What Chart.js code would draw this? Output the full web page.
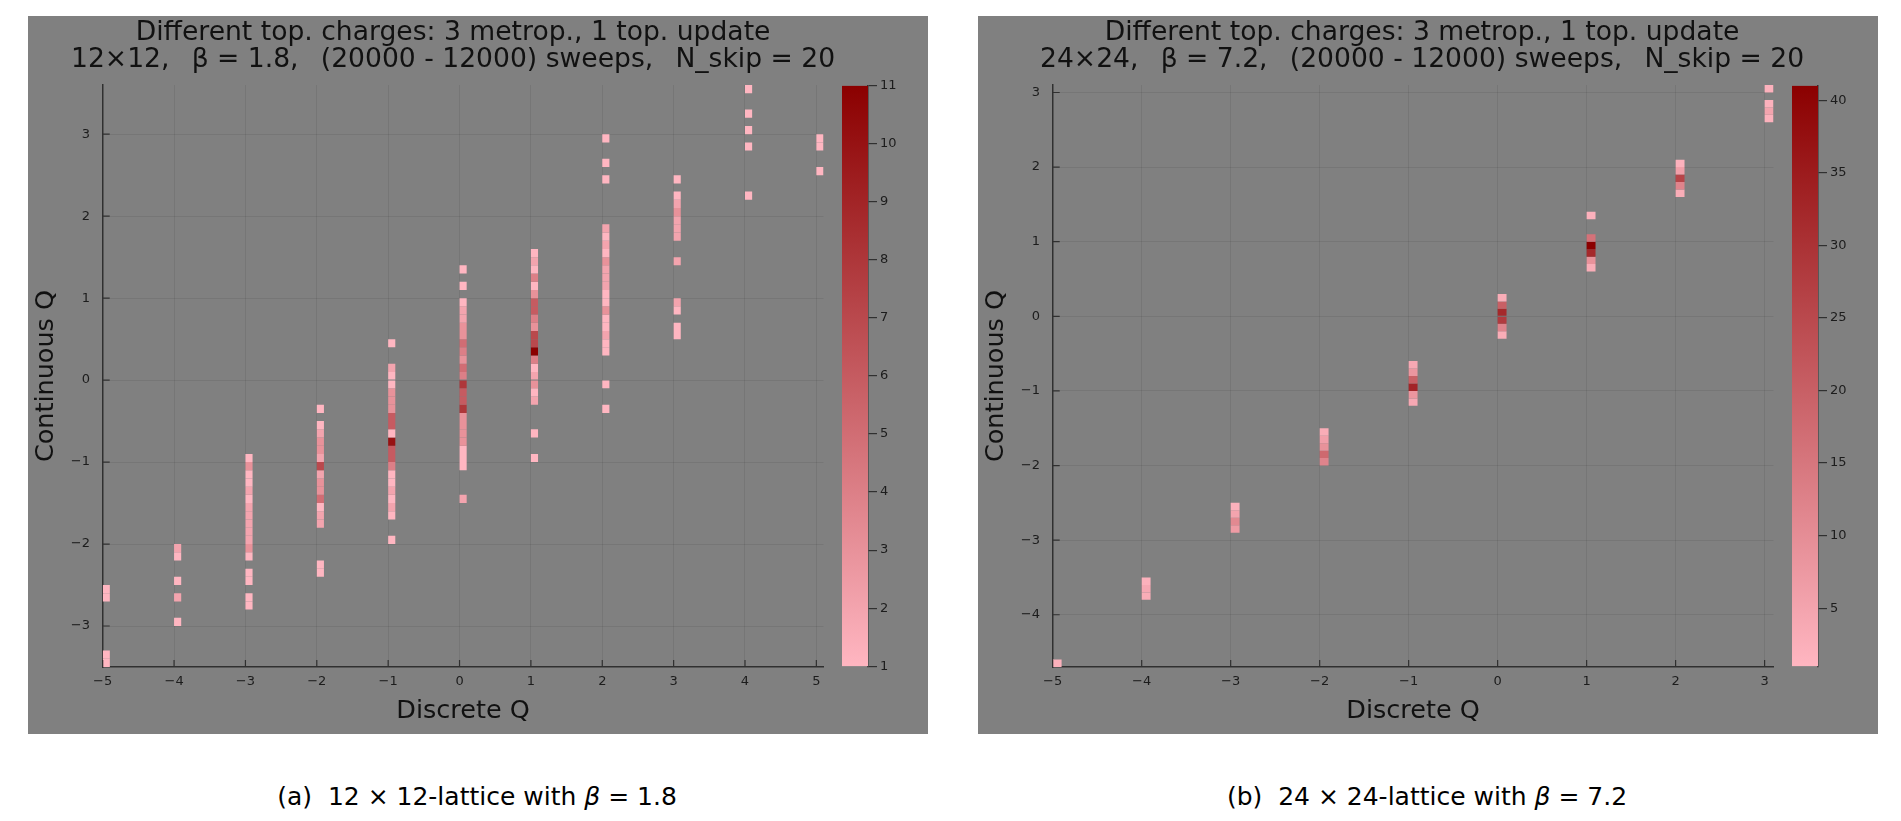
<!DOCTYPE html>
<html lang="en">
<head>
<meta charset="UTF-8">
<title>Discrete vs continuous Q</title>
<script src="https://cdn.jsdelivr.net/npm/chart.js@4.4.1/dist/chart.umd.min.js"></script>
<style>
  body { margin: 0; width: 1901px; height: 821px; background: #fff; position: relative; overflow: hidden; font-family: "DejaVu Sans", sans-serif; }
  .panel { position: absolute; top: 16px; width: 900px; height: 718px; background: #808080; }
  .panel canvas { position: absolute; }
  .caption { position: absolute; top: 782px; font-size: 25px; line-height: 30px; color: #000; white-space: pre; transform: translateX(-50%); }
</style>
</head>
<body>

<div class="panel" style="left:28px">
  <canvas id="heatA" width="900" height="718" style="left:0;top:0"></canvas>
  <canvas id="barA" width="86" height="602" style="left:814px;top:59px"></canvas>
</div>
<div class="panel" style="left:978px">
  <canvas id="heatB" width="900" height="718" style="left:0;top:0"></canvas>
  <canvas id="barB" width="86" height="602" style="left:814px;top:59px"></canvas>
</div>

<div class="caption" style="left:477px">(a)  12 × 12-lattice with <i>β</i> = 1.8</div>
<div class="caption" style="left:1427px">(b)  24 × 24-lattice with <i>β</i> = 7.2</div>

<script>
    // 12x12, beta = 1.8 : one list of bins (centre of continuous Q) per discrete Q
    const discreteA = [-5, -4, -3, -2, -1, 0, 1, 2, 3, 4, 5];
    const contA = [
        [-3.45, -3.35, -2.65, -2.55],
        [-2.95, -2.65, -2.45, -2.15, -2.05],
        [-2.75, -2.65, -2.45, -2.35, -2.15, -2.05, -1.95, -1.85, -1.75, -1.65, -1.55, -1.45, -1.35, -1.25, -1.15, -1.05, -0.95],
        [-2.35, -2.25, -1.75, -1.65, -1.55, -1.45, -1.35, -1.25, -1.15, -1.05, -0.95, -0.85, -0.75, -0.65, -0.55, -0.35],
        [-1.95, -1.65, -1.55, -1.45, -1.35, -1.25, -1.15, -1.05, -0.95, -0.85, -0.75, -0.65, -0.55, -0.45, -0.35, -0.25, -0.15, -0.05, 0.05, 0.15, 0.45],
        [-1.45, -1.05, -0.95, -0.85, -0.75, -0.65, -0.55, -0.45, -0.35, -0.25, -0.15, -0.05, 0.05, 0.15, 0.25, 0.35, 0.45, 0.55, 0.65, 0.75, 0.85, 0.95, 1.15, 1.35],
        [-0.95, -0.65, -0.25, -0.15, -0.05, 0.05, 0.15, 0.25, 0.35, 0.45, 0.55, 0.65, 0.75, 0.85, 0.95, 1.05, 1.15, 1.25, 1.35, 1.45, 1.55],
        [-0.35, -0.05, 0.35, 0.45, 0.55, 0.65, 0.75, 0.85, 0.95, 1.05, 1.15, 1.25, 1.35, 1.45, 1.55, 1.65, 1.75, 1.85, 2.45, 2.65, 2.95],
        [0.55, 0.65, 0.85, 0.95, 1.45, 1.75, 1.85, 1.95, 2.05, 2.15, 2.25, 2.45],
        [2.25, 2.85, 3.05, 3.25, 3.55],
        [2.55, 2.85, 2.95]
    ];
    const countA = [
        [1, 1, 1, 1],
        [1, 2, 1, 1, 2],
        [1, 1, 1, 1, 1, 3, 2, 2, 2, 2, 2, 1, 2, 1, 1, 3, 1],
        [1, 1, 2, 2, 1, 5, 3, 3, 2, 7, 2, 3, 3, 2, 1, 1],
        [1, 1, 2, 1, 2, 1, 1, 4, 6, 6, 10, 1, 6, 6, 3, 3, 3, 1, 1, 2, 1],
        [2, 1, 1, 1, 3, 3, 3, 3, 8, 6, 6, 8, 4, 5, 3, 4, 5, 3, 3, 2, 2, 1, 1, 1],
        [1, 1, 2, 1, 3, 2, 1, 4, 11, 7, 7, 3, 4, 6, 6, 3, 1, 4, 1, 2, 1],
        [1, 1, 1, 1, 2, 1, 1, 3, 1, 1, 2, 2, 2, 3, 1, 2, 1, 2, 1, 1, 1],
        [1, 1, 1, 2, 2, 2, 2, 2, 3, 2, 1, 1],
        [1, 1, 1, 1, 1],
        [1, 1, 1]
    ];

    // 24x24, beta = 7.2
    const discreteB = [-5, -4, -3, -2, -1, 0, 1, 2, 3];
    const contB = [
        [-4.65],
        [-3.75, -3.65, -3.55],
        [-2.85, -2.75, -2.65, -2.55],
        [-1.95, -1.85, -1.75, -1.65, -1.55],
        [-1.15, -1.05, -0.95, -0.85, -0.75, -0.65],
        [-0.25, -0.15, -0.05, 0.05, 0.15, 0.25],
        [0.65, 0.75, 0.85, 0.95, 1.05, 1.35],
        [1.65, 1.75, 1.85, 1.95, 2.05],
        [2.65, 2.75, 2.85, 3.05]
    ];
    const countB = [
        [2],
        [3, 4, 2],
        [7, 11, 5, 2],
        [12, 18, 9, 6, 3],
        [4, 8, 33, 20, 8, 4],
        [3, 12, 28, 32, 20, 3],
        [3, 9, 32, 41, 16, 2],
        [3, 12, 26, 6, 2],
        [2, 5, 2, 2]
    ];

    const titleLine1 = 'Different top. charges: 3 metrop., 1 top. update';
    const titleA = '12\u00d712,\u2009  \u03b2 = 1.8,\u2009  (20000 - 12000) sweeps,\u2009  N_skip = 20';
    const titleB = '24\u00d724,\u2009  \u03b2 = 7.2,\u2009  (20000 - 12000) sweeps,\u2009  N_skip = 20';

    // histogram bin widths
    const BIN_X = 0.1;
    const BIN_Y = 0.1;

    const FONT = '"DejaVu Sans", sans-serif';
    const AXIS = '#303030';
    const GRID = 'rgba(0,0,0,0.08)';
    const TXT = '#1c1c1c';
    const LOW = [255, 182, 193];   // lightpink
    const HIGH = [139, 0, 0];      // darkred

    Chart.defaults.font.family = FONT;

    function countColor(c, cMax) {
        let t = (c - 1) / (cMax - 1);
        let rgb = LOW.map((v, k) => Math.round(v + (HIGH[k] - v) * t));
        return 'rgb(' + rgb.join(',') + ')';
    }

    let minus = v => (v < 0 ? '\u2212' + Math.abs(v) : String(v));

    // small tick marks pointing into the plot, like the original
    const innerTicks = {
        id: 'innerTicks',
        afterDatasetsDraw(chart) {
            let {ctx, chartArea: a, scales: {x, y}} = chart;
            ctx.save();
            ctx.strokeStyle = AXIS;
            ctx.lineWidth = 1.2;
            ctx.beginPath();
            x.ticks.forEach((t, i) => {
                let px = x.getPixelForTick(i);
                ctx.moveTo(px, a.bottom);
                ctx.lineTo(px, a.bottom - 7);
            });
            y.ticks.forEach((t, i) => {
                let py = y.getPixelForTick(i);
                ctx.moveTo(a.left, py);
                ctx.lineTo(a.left + 7, py);
            });
            ctx.stroke();
            ctx.restore();
        }
    };

    // the title box is as wide as the plot; widen it and nudge its centre
    const titleShift = {
        id: 'titleShift',
        beforeDraw(chart, args, opts) {
            let t = chart.titleBlock;
            if (!t) return;
            let cx = (chart.chartArea.left + chart.chartArea.right) / 2 + (opts.dx || 0);
            t.left = cx - 440;
            t.right = cx + 440;
            t.width = 880;
        }
    };

    function buildHeatmap(id, disc, cont, counts, cMax, xMax, yMin, yMax, title2, dx) {
        let points = [];
        let colors = [];
        disc.forEach((q, i) => {
            cont[i].forEach((c, j) => {
                points.push({x: q + BIN_X / 2, y: [c - BIN_Y / 2, c + BIN_Y / 2]});
                colors.push(countColor(counts[i][j], cMax));
            });
        });

        let tickFont = {family: FONT, size: 13};
        let guideFont = {family: FONT, size: 25.5, lineHeight: 1.2};

        return new Chart(document.getElementById(id), {
            type: 'bar',
            data: {
                datasets: [{
                    data: points,
                    backgroundColor: colors,
                    borderWidth: 0,
                    barPercentage: 1,
                    categoryPercentage: BIN_X,
                    grouped: false
                }]
            },
            options: {
                responsive: false,
                animation: false,
                layout: {padding: {left: 0, right: 104.5, top: 0, bottom: 0}},
                plugins: {
                    legend: {display: false},
                    tooltip: {enabled: false},
                    title: {
                        display: true,
                        fullSize: false,
                        text: [titleLine1, title2],
                        color: '#111',
                        font: {family: FONT, size: 26.6, weight: 'normal', lineHeight: 1.04},
                        padding: {top: 3, bottom: 10.7}
                    },
                    titleShift: {dx: dx}
                },
                scales: {
                    x: {
                        type: 'linear',
                        min: -5,
                        max: xMax,
                        offset: false,
                        grid: {offset: false, color: GRID, drawTicks: false},
                        border: {display: true, color: AXIS, width: 1.5},
                        ticks: {stepSize: 1, includeBounds: false, padding: 7, color: TXT, font: tickFont,
                                maxRotation: 0, autoSkip: false, callback: minus},
                        title: {display: true, text: 'Discrete Q', color: '#111', font: guideFont,
                                padding: {top: 0, bottom: 7.6}},
                        afterFit: s => { s.height = 67; }
                    },
                    y: {
                        type: 'linear',
                        min: yMin,
                        max: yMax,
                        grid: {color: GRID, drawTicks: false},
                        border: {display: true, color: AXIS, width: 1.5},
                        ticks: {stepSize: 1, includeBounds: false, padding: 12.7, color: TXT, font: tickFont,
                                callback: minus},
                        title: {display: true, text: 'Continuous Q', color: '#111', font: guideFont,
                                padding: {top: 3, bottom: 0}},
                        afterFit: s => { s.width = 74.7; }
                    }
                }
            },
            plugins: [innerTicks, titleShift]
        });
    }

    function buildColorbar(id, cMax, step) {
        let fill = c => {
            let a = c.chart.chartArea;
            if (!a) return null;
            let g = c.chart.ctx.createLinearGradient(0, a.bottom, 0, a.top);
            g.addColorStop(0, countColor(1, cMax));
            g.addColorStop(1, countColor(cMax, cMax));
            return g;
        };
        return new Chart(document.getElementById(id), {
            type: 'bar',
            data: {
                labels: [''],
                datasets: [{data: [[1, cMax]], backgroundColor: fill, borderWidth: 0,
                             barPercentage: 1, categoryPercentage: 1}]
            },
            options: {
                responsive: false,
                animation: false,
                layout: {padding: {top: 10, bottom: 10, left: 0, right: 0}},
                plugins: {legend: {display: false}, tooltip: {enabled: false}},
                scales: {
                    x: {display: false},
                    y: {
                        position: 'right',
                        min: 1,
                        max: cMax,
                        grid: {drawOnChartArea: false, drawTicks: true, tickLength: 9, color: AXIS, lineWidth: 1.2},
                        border: {display: true, color: AXIS, width: 1.5},
                        ticks: {padding: 3, color: TXT, font: {family: FONT, size: 13}},
                        // ticks on multiples of the step, not counted from the minimum
                        afterBuildTicks: s => {
                            let t = [];
                            for (let v = Math.ceil(1 / step) * step; v <= cMax; v += step) t.push({value: v});
                            s.ticks = t;
                        },
                        afterFit: s => { s.width = 60; }
                    }
                }
            }
        });
    }

    buildHeatmap('heatA', discreteA, contA, countA, 11, 5.1, -3.5, 3.6, titleA, -10);
    buildColorbar('barA', 11, 1);
    buildHeatmap('heatB', discreteB, contB, countB, 41, 3.1, -4.7, 3.1, titleB, 9);
    buildColorbar('barB', 41, 5);
</script>
</body>
</html>
